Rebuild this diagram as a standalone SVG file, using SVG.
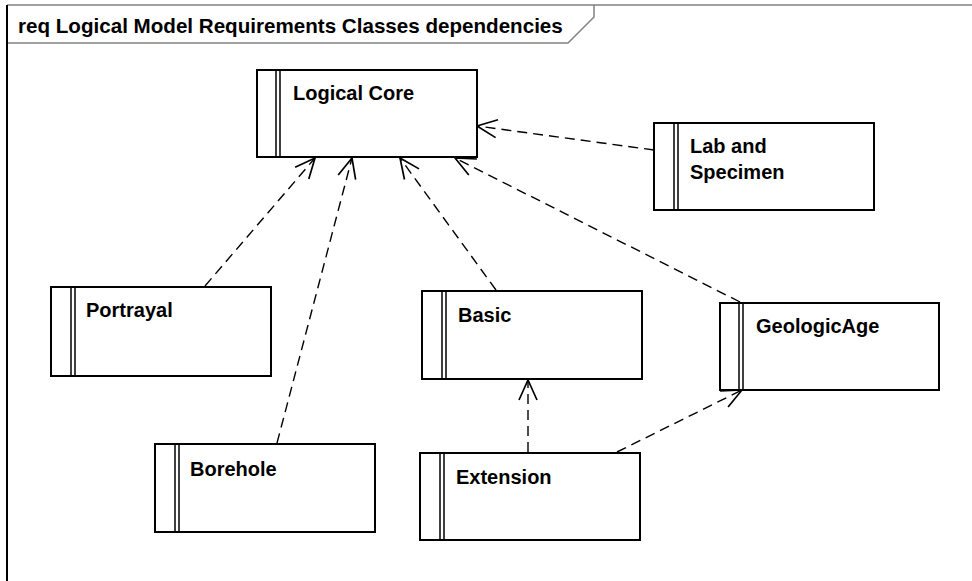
<svg xmlns="http://www.w3.org/2000/svg" width="972" height="581" viewBox="0 0 972 581">
  <style>
    .frame { fill: none; stroke: #808080; stroke-width: 1.5; }
    .frame-left { fill: none; stroke: #000; stroke-width: 2; }
    .title { font-family: "Liberation Sans", Arial, sans-serif; font-weight: bold; font-size: 20.6px; fill: #000; }
    .box { fill: #fff; stroke: #000; stroke-width: 2; }
    .bar { fill: none; stroke: #000; stroke-width: 1.5; }
    .label { font-family: "Liberation Sans", Arial, sans-serif; font-weight: bold; font-size: 20px; fill: #000; }
    .dep { fill: none; stroke: #000; stroke-width: 1.4; stroke-dasharray: 10 6; marker-end: url(#open); }
  </style>
  <defs>
    <marker id="open" markerUnits="userSpaceOnUse" viewBox="-24 -12 26 24" refX="0" refY="0" markerWidth="26" markerHeight="24" orient="auto">
      <path d="M-20,-9 L0,0 L-20,9" fill="none" stroke="#000" stroke-width="1.7" stroke-dasharray="none"/>
    </marker>
  </defs>

  <rect width="972" height="581" fill="#fff"/>

  <!-- diagram frame with name tab -->
  <g id="frame">
    <line class="frame" x1="7" y1="5" x2="972" y2="5"/>
    <polyline class="frame" points="7,43 568,43 594,17 594,5"/>
    <line class="frame-left" x1="7" y1="5" x2="7" y2="581"/>
    <text class="title" x="18" y="33">req Logical Model Requirements Classes dependencies</text>
  </g>

  <!-- dependency connectors -->
  <g id="connectors">
    <line class="dep" x1="654" y1="150" x2="477" y2="126"/>
    <line class="dep" x1="205" y1="286" x2="315" y2="158"/>
    <line class="dep" x1="277" y1="443" x2="352" y2="158"/>
    <line class="dep" x1="496" y1="290" x2="400" y2="158"/>
    <line class="dep" x1="740" y1="302" x2="455" y2="158"/>
    <line class="dep" x1="528" y1="452" x2="528" y2="380"/>
    <line class="dep" x1="617" y1="452" x2="742" y2="390"/>
  </g>

  <g id="logical-core">
    <rect class="box" x="257" y="70" width="220" height="87"/>
    <line class="bar" x1="276" y1="70" x2="276" y2="157"/>
    <line class="bar" x1="280" y1="70" x2="280" y2="157"/>
    <text class="label" x="293" y="100">Logical Core</text>
  </g>

  <g id="lab-and-specimen">
    <rect class="box" x="654" y="123" width="220" height="87"/>
    <line class="bar" x1="674" y1="123" x2="674" y2="210"/>
    <line class="bar" x1="678" y1="123" x2="678" y2="210"/>
    <text class="label" x="690" y="153">Lab and</text>
    <text class="label" x="690" y="179">Specimen</text>
  </g>

  <g id="portrayal">
    <rect class="box" x="51" y="287" width="220" height="89"/>
    <line class="bar" x1="71" y1="287" x2="71" y2="376"/>
    <line class="bar" x1="75" y1="287" x2="75" y2="376"/>
    <text class="label" x="86" y="317">Portrayal</text>
  </g>

  <g id="basic">
    <rect class="box" x="422" y="291" width="220" height="88"/>
    <line class="bar" x1="442" y1="291" x2="442" y2="379"/>
    <line class="bar" x1="446" y1="291" x2="446" y2="379"/>
    <text class="label" x="458" y="322">Basic</text>
  </g>

  <g id="geologic-age">
    <rect class="box" x="720" y="303" width="219" height="87"/>
    <line class="bar" x1="739" y1="303" x2="739" y2="390"/>
    <line class="bar" x1="743" y1="303" x2="743" y2="390"/>
    <text class="label" x="756" y="333">GeologicAge</text>
  </g>

  <g id="borehole">
    <rect class="box" x="155" y="444" width="220" height="88"/>
    <line class="bar" x1="175" y1="444" x2="175" y2="532"/>
    <line class="bar" x1="179" y1="444" x2="179" y2="532"/>
    <text class="label" x="190" y="476">Borehole</text>
  </g>

  <g id="extension">
    <rect class="box" x="420" y="453" width="220" height="87"/>
    <line class="bar" x1="440" y1="453" x2="440" y2="540"/>
    <line class="bar" x1="444" y1="453" x2="444" y2="540"/>
    <text class="label" x="456" y="484">Extension</text>
  </g>
</svg>
